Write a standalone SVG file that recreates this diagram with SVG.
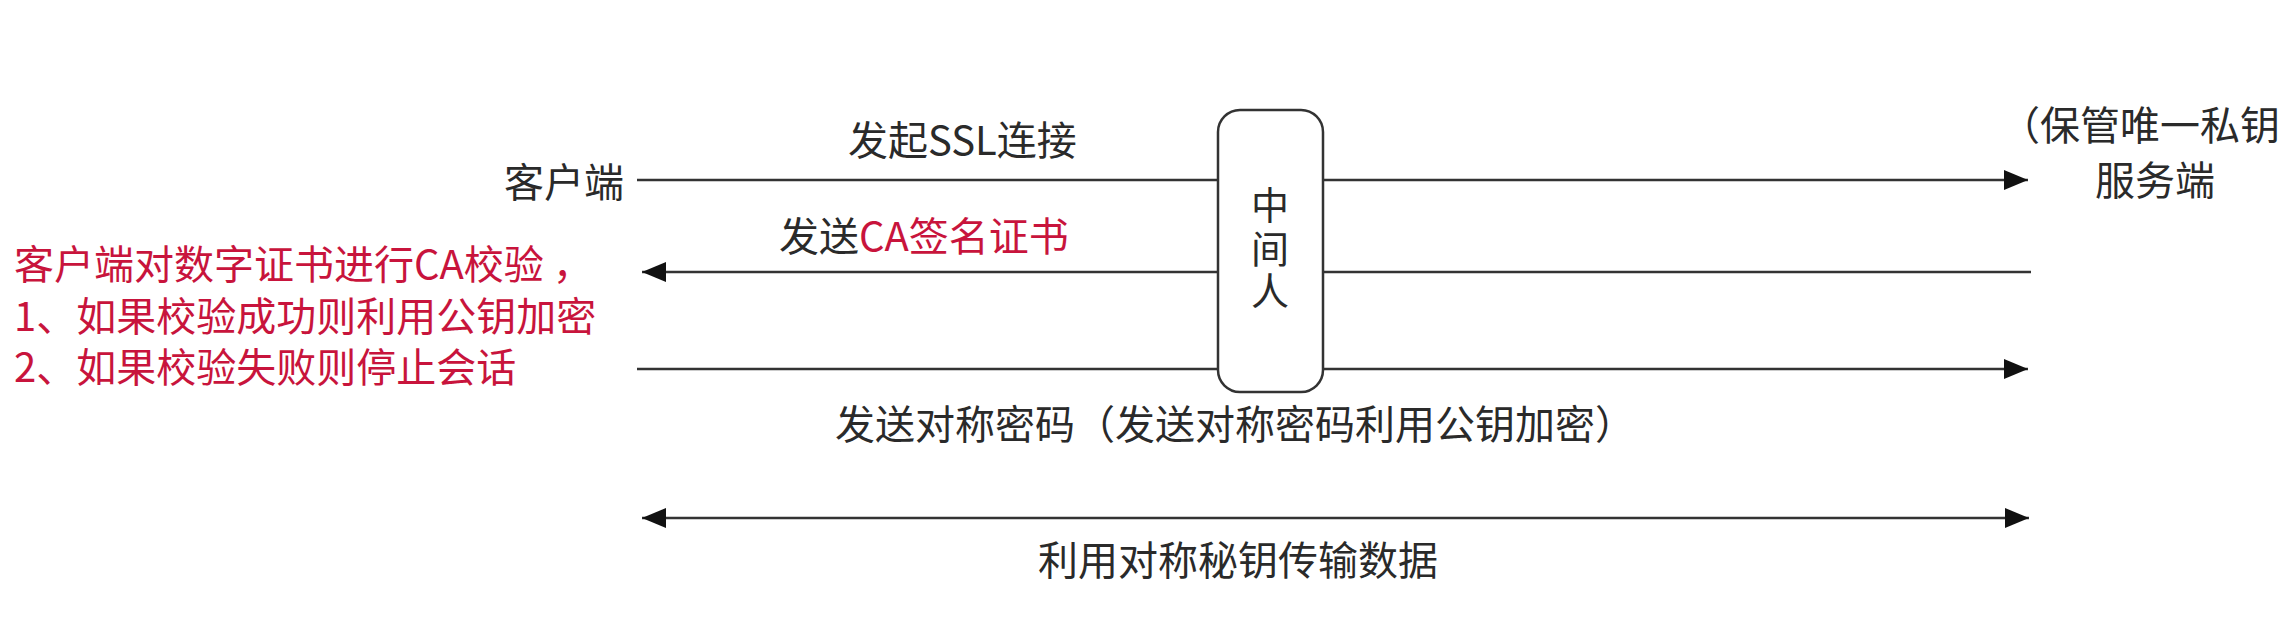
<svg xmlns="http://www.w3.org/2000/svg" width="2280" height="640" viewBox="0 0 2280 640">
<style>
.t{font-family:"Noto Sans CJK SC","Noto Sans",sans-serif;font-size:40px;fill:#2a2a2a}
.r{fill:#c8143c}
.ln{stroke:#333;stroke-width:2.5;fill:none}
</style>
<defs>
<marker id="ah" viewBox="0 0 24 20" refX="24" refY="10" markerWidth="24" markerHeight="20" markerUnits="userSpaceOnUse" orient="auto-start-reverse">
<path d="M0,0 L24,10 L0,20 Z" fill="#111"/>
</marker>
</defs>
<rect width="2280" height="640" fill="#fff"/>
<g id="connectors">
<line class="ln" x1="637" y1="180" x2="2028" y2="180" marker-end="url(#ah)"/>
<line class="ln" x1="2031" y1="272" x2="642" y2="272" marker-end="url(#ah)"/>
<line class="ln" x1="637" y1="369" x2="2028" y2="369" marker-end="url(#ah)"/>
<line class="ln" x1="642" y1="518" x2="2029" y2="518" marker-start="url(#ah)" marker-end="url(#ah)"/>
</g>
<g id="client">
<text class="t" x="624" y="197" text-anchor="end">客户端</text>
</g>
<g id="server">
<text class="t" x="2000" y="140">（保管唯一私钥</text>
<text class="t" x="2155" y="195" text-anchor="middle">服务端</text>
</g>
<g id="mitm">
<rect x="1218" y="110" width="105" height="282" rx="22" fill="#fff" stroke="#333" stroke-width="2.5"/>
<text class="t" x="1270" y="219" text-anchor="middle" style="font-size:38px">中<tspan x="1270" dy="44">间</tspan><tspan x="1270" dy="42">人</tspan></text>
</g>
<g id="labels">
<text class="t" x="848" y="155">发起SSL连接</text>
<text class="t" x="779" y="251">发送<tspan class="r">CA签名证书</tspan></text>
<text class="t" x="835" y="439">发送对称密码（发送对称密码利用公钥加密）</text>
<text class="t" x="1038" y="575">利用对称秘钥传输数据</text>
</g>
<g id="note">
<text class="t r" x="14" y="279">客户端对数字证书进行CA校验 ，<tspan x="14" dy="52">1、如果校验成功则利用公钥加密</tspan><tspan x="14" dy="51">2、如果校验失败则停止会话</tspan></text>
</g>
</svg>
